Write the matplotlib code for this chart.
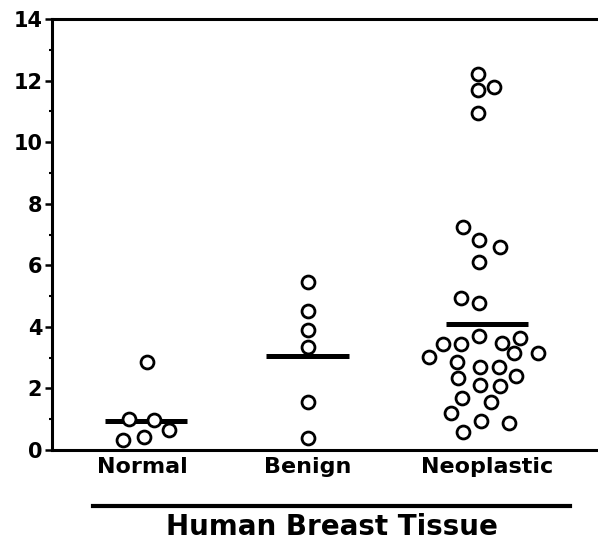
import matplotlib
matplotlib.use("Agg")
import matplotlib.pyplot as plt
from matplotlib.lines import Line2D
import numpy as np

# ---- data ----
categories = ["Normal", "Benign", "Neoplastic"]
normal_vals = [2.87, 1.01, 0.98, 0.65, 0.33, 0.42]
benign_vals = [5.47, 4.50, 3.90, 3.36, 1.56, 0.39]
neoplastic_vals = [12.2, 11.7, 11.8, 10.95, 7.23, 6.81, 6.61, 6.12, 4.95, 4.79,
                   3.71, 3.64, 3.45, 3.45, 3.49, 3.15, 3.03, 3.16, 2.86, 2.71,
                   2.71, 2.34, 2.41, 2.12, 2.09, 1.69, 1.56, 1.20, 0.94, 0.88, 0.59]
means = [0.95, 3.06, 4.10]
yticks = [0, 2, 4, 6, 8, 10, 12, 14]

# ---- horizontal jitter (pixels in original picture) ----
normal_jit = [1, -17, 8, 23, -23, -2]
benign_jit = [0, 0, 0, 0, 0, 0]
neoplastic_jit = [-9, -9, 7, -9, -24, -8, 13, -8, -26, -8,
                  -8, 33, -44, -26, 15, 27, -58, 51, -30, -7,
                  12, -29, 29, -7, 13, -25, 4, -36, -6, 22, -24]

centers = [1.1, 2.0, 3.0]
label_pos = [1.08, 2.0, 3.0]
px_per_unit = 179.5
FONT = "DejaVu Sans"

W, H = 598, 544
fig = plt.figure(figsize=(W / 100, H / 100), dpi=100)
ax = fig.add_axes([52 / W, 1 - 450 / H, (598 - 52) / W, (450 - 19) / H])

groups = [(normal_vals, normal_jit), (benign_vals, benign_jit), (neoplastic_vals, neoplastic_jit)]
for c, (vals, jit) in zip(centers, groups):
    xs = c + np.array(jit) / px_per_unit
    ax.plot(xs, vals, linestyle="none", marker="o", markersize=9.3,
            markerfacecolor="white", markeredgecolor="black", markeredgewidth=2.0,
            zorder=3, clip_on=False)

for c, m in zip(centers, means):
    ax.plot([c - 0.23, c + 0.23], [m, m], color="black", lw=3.6,
            solid_capstyle="butt", zorder=2)

ax.set_ylim(0, 14)
ax.set_xlim(2 - (307.5 - 52) / px_per_unit, 2 + (598 - 307.5) / px_per_unit)

ax.spines["right"].set_visible(False)
for s in ["left", "bottom", "top"]:
    ax.spines[s].set_linewidth(2.2)

ax.set_yticks(yticks)
ax.set_yticks(range(1, 14, 2), minor=True)
ax.tick_params(axis="y", which="major", direction="out", length=5, width=1.8, pad=2)
ax.tick_params(axis="y", which="minor", direction="out", length=2.5, width=1.5)
for lbl in ax.get_yticklabels():
    lbl.set_fontfamily(FONT)
    lbl.set_fontweight("bold")
    lbl.set_fontsize(15)

ax.set_xticks(label_pos)
ax.set_xticklabels(categories, fontfamily=FONT, fontweight="bold", fontsize=16)
ax.tick_params(axis="x", length=0, pad=5)

# underline and axis title
fig.add_artist(Line2D([93 / W, 570 / W], [1 - 506 / H, 1 - 506 / H],
                      color="black", lw=3, transform=fig.transFigure))
fig.text(332 / W, 1 - 527 / H, "Human Breast Tissue", ha="center", va="center",
         fontfamily=FONT, fontweight="bold", fontsize=20)

fig.savefig("out.png", dpi=100)
